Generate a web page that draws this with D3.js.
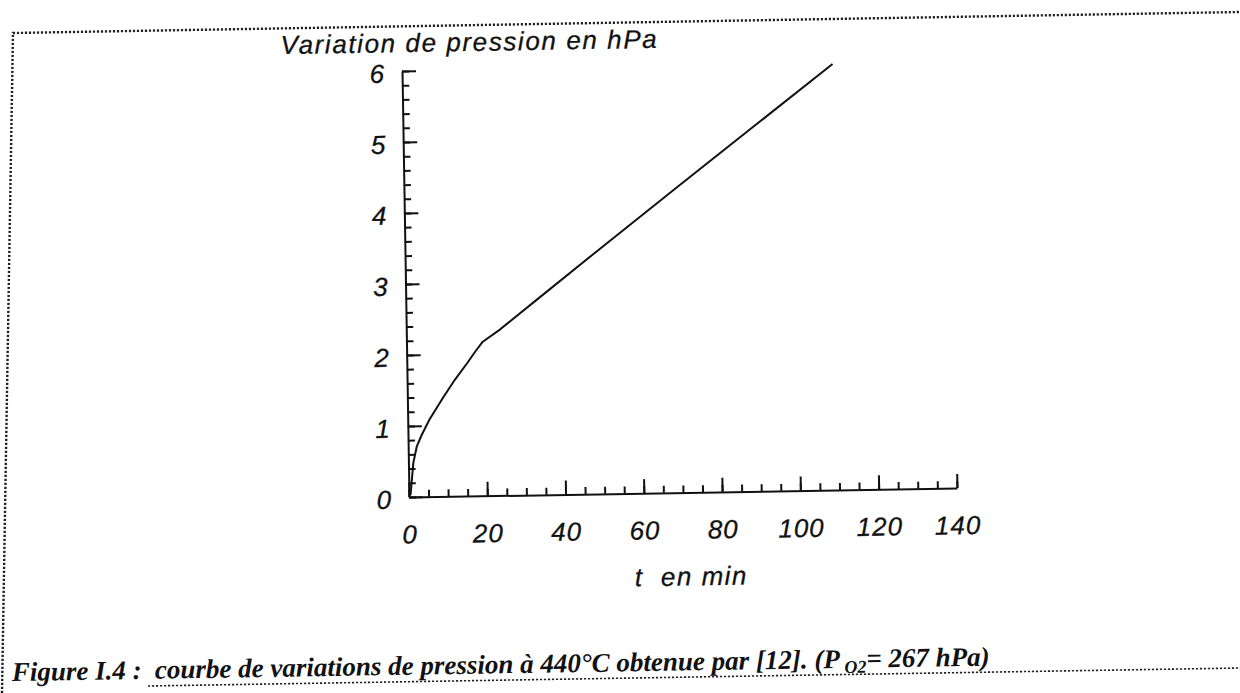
<!DOCTYPE html>
<html>
<head>
<meta charset="utf-8">
<script src="https://cdn.jsdelivr.net/npm/d3@7"></script>
<style>
  html, body { margin: 0; padding: 0; background: #fff; }
  svg { display: block; }
  .ax text { font-family: "Liberation Sans", Arial, sans-serif; font-style: italic; font-size: 26px; fill: #111; stroke: #111; stroke-width: 0.3px; letter-spacing: 1px; }
  .ax path, .ax line { stroke: #111; stroke-width: 2; }
</style>
</head>
<body>
<script>
// ---- data ----
const timeMin   = [0.4, 0.8, 1.25, 2.2, 3.5, 5.6, 9.1, 12.2, 15.4, 17.5, 19.5, 24, 33.5, 50, 70, 89.4, 110];
const pressure  = [0.03, 0.24, 0.48, 0.71, 0.87, 1.09, 1.39, 1.64, 1.87, 2.03, 2.17, 2.34, 2.75, 3.46, 4.31, 5.13, 6.0];
const xTicks    = [0, 20, 40, 60, 80, 100, 120, 140];
const yTicks    = [0, 1, 2, 3, 4, 5, 6];
const yTitle    = "Variation de pression en hPa";
const xTitle    = "t  en min";
const captionHead = "Figure I.4 :";
const captionBody = "courbe de variations de pression à 440°C obtenue par [12]. (P";
const captionSub  = "O2";
const captionTail = "= 267 hPa)";

const W = 1240, H = 693;
const svg = d3.select("body").append("svg").attr("width", W).attr("height", H);
svg.append("rect").attr("width", W).attr("height", H).attr("fill", "#fff");

// page frame (dotted, as scanned)
function dottedPath(d, w) {
  return svg.append("path").attr("d", d).attr("fill", "none")
    .attr("stroke", "#222").attr("stroke-width", w).attr("stroke-dasharray", "2.2,1.8");
}
dottedPath("M2,693 L13,33 L1240,12", 2.4);
dottedPath("M148,686 L1240,668", 1.6);

// plot
const x = d3.scaleLinear().domain([0, 140]).range([409, 957]);
const y = d3.scaleLinear().domain([0, 6]).range([497, 71]);

const g = svg.append("g").attr("transform", "rotate(-0.94, 409, 497)");

// x axis: minor ticks
g.append("g").attr("class", "ax").attr("transform", `translate(0,${y(0)})`)
  .call(d3.axisBottom(x).tickValues(d3.range(0, 141, 5)).tickSizeInner(-7).tickSizeOuter(0).tickFormat(""));
// x axis: major ticks + labels
g.append("g").attr("class", "ax").attr("transform", `translate(0,${y(0)})`)
  .call(d3.axisBottom(x).tickValues(xTicks).tickSizeInner(-14).tickSizeOuter(0).tickPadding(28).tickFormat(d3.format("d")))
  .call(s => s.select(".domain").remove());

// y axis: minor ticks
g.append("g").attr("class", "ax").attr("transform", `translate(${x(0)},0)`)
  .call(d3.axisLeft(y).tickValues(d3.range(0, 6.01, 0.2)).tickSizeInner(-7).tickSizeOuter(0).tickFormat(""));
// y axis: major ticks + labels
g.append("g").attr("class", "ax").attr("transform", `translate(${x(0)},0)`)
  .call(d3.axisLeft(y).tickValues(yTicks).tickSizeInner(-14).tickSizeOuter(0).tickPadding(17).tickFormat(d3.format("d")))
  .call(s => s.select(".domain").remove())
  .call(s => s.selectAll(".tick text").attr("dy", "0.42em"));

// curve
const pts = timeMin.map((t, i) => [t, pressure[i]]);
g.append("path").datum(pts)
  .attr("fill", "none").attr("stroke", "#111").attr("stroke-width", 2).attr("stroke-linejoin", "round")
  .attr("d", d3.line().x(d => x(d[0])).y(d => y(d[1])));

// axis titles
const sans = '"Liberation Sans", Arial, sans-serif';
g.append("text")
  .attr("x", 288).attr("y", 52)
  .style("font-family", sans).style("font-style", "italic")
  .style("font-size", "26px").style("letter-spacing", "1.6px")
  .attr("fill", "#111").attr("stroke", "#111").attr("stroke-width", 0.3)
  .text(yTitle);
g.append("text")
  .attr("x", 690).attr("y", 590).attr("text-anchor", "middle")
  .style("font-family", sans).style("font-style", "italic")
  .style("font-size", "26px").style("letter-spacing", "1.5px").style("white-space", "pre")
  .attr("fill", "#111").attr("stroke", "#111").attr("stroke-width", 0.3)
  .text(xTitle);

// caption
const cap = svg.append("g").attr("transform", "rotate(-0.9, 12, 681)");
const capFont = '"Liberation Serif", "Times New Roman", serif';
cap.append("text").attr("x", 12).attr("y", 681)
  .style("font-family", capFont).style("font-style", "italic").style("font-weight", "bold")
  .style("font-size", "27px").attr("fill", "#111").text(captionHead);
const body = cap.append("text").attr("x", 155).attr("y", 681)
  .style("font-family", capFont).style("font-style", "italic").style("font-weight", "bold")
  .style("font-size", "27px").style("white-space", "pre").attr("fill", "#111");
body.append("tspan").text(captionBody);
body.append("tspan").attr("dy", 5).style("font-size", "18px").text(" " + captionSub);
body.append("tspan").attr("dy", -5).text(captionTail);
</script>
</body>
</html>
